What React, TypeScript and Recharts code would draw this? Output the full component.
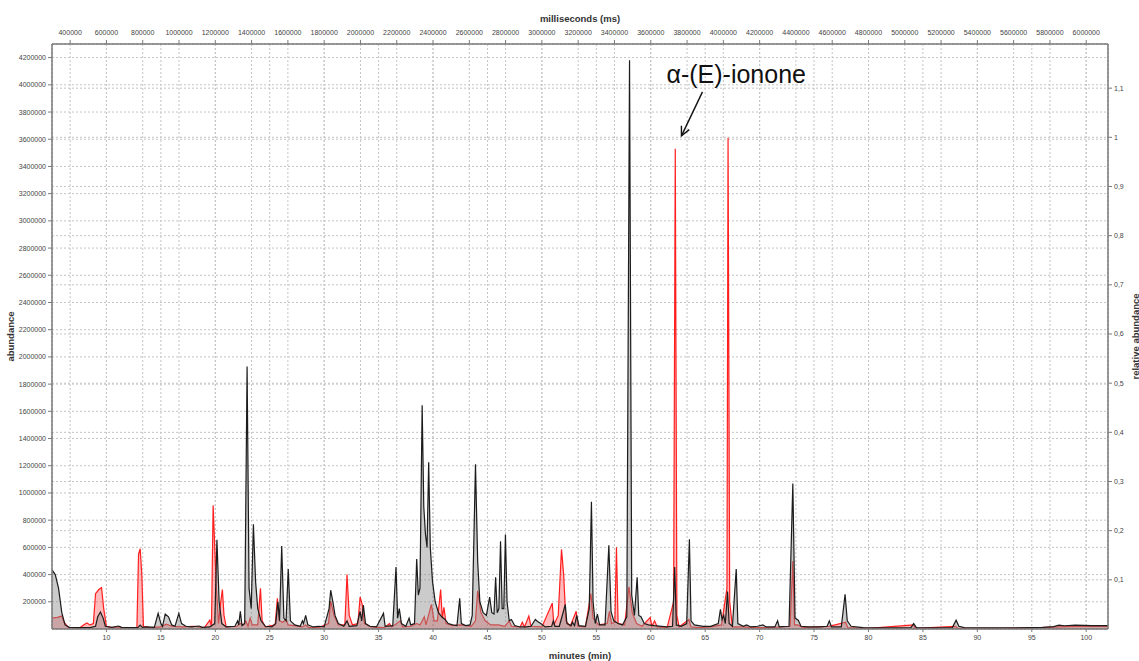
import {
  Area,
  CartesianGrid,
  ComposedChart,
  Label,
  ReferenceLine,
  XAxis,
  YAxis,
} from "recharts";

// black trace: [minutes, abundance]
const BLACK_TRACE: [number, number][] = [
  [5.0, 435000], [5.3, 400000], [5.6, 300000], [5.9, 120000], [6.2, 30000], [6.6, 12000],
  [7.5, 10000], [8.5, 10000], [9.0, 20000], [9.2, 90000], [9.45, 125000], [9.7, 80000],
  [9.9, 20000], [10.5, 12000], [11.1, 22000], [11.4, 12000], [12.5, 10000], [12.9, 12000],
  [13.1, 28000], [13.3, 12000], [13.7, 15000], [14.4, 12000], [14.75, 115000], [15.0, 40000],
  [15.15, 20000], [15.4, 110000], [15.7, 90000], [16.0, 30000], [16.3, 20000], [16.65, 115000],
  [16.9, 40000], [17.3, 20000], [17.8, 15000], [18.5, 22000], [18.8, 12000], [19.5, 15000],
  [19.95, 40000], [20.15, 655000], [20.35, 200000], [20.6, 40000], [21.0, 15000], [21.8, 20000],
  [22.05, 60000], [22.15, 30000], [22.3, 130000], [22.45, 25000], [22.7, 40000], [22.92, 1930000],
  [23.1, 300000], [23.3, 150000], [23.5, 770000], [23.7, 350000], [23.9, 150000], [24.2, 60000],
  [24.6, 20000], [25.2, 15000], [25.55, 40000], [25.75, 200000], [25.9, 60000], [26.1, 610000],
  [26.3, 80000], [26.5, 60000], [26.7, 440000], [26.9, 60000], [27.3, 30000], [27.8, 20000],
  [28.0, 60000], [28.1, 40000], [28.3, 100000], [28.5, 30000], [29.0, 15000], [29.5, 20000],
  [30.0, 15000], [30.45, 150000], [30.6, 285000], [30.8, 200000], [31.0, 100000], [31.3, 40000],
  [31.8, 20000], [32.1, 60000], [32.3, 20000], [33.0, 25000], [33.3, 130000], [33.45, 60000],
  [33.6, 175000], [33.8, 40000], [34.2, 20000], [34.8, 15000], [35.45, 115000], [35.6, 20000],
  [36.3, 25000], [36.6, 455000], [36.75, 80000], [36.9, 150000], [37.1, 40000], [37.5, 20000],
  [37.8, 80000], [37.95, 30000], [38.3, 40000], [38.5, 515000], [38.65, 250000], [38.8, 300000],
  [39.0, 1645000], [39.15, 900000], [39.3, 700000], [39.45, 600000], [39.6, 1225000], [39.75, 600000],
  [39.95, 350000], [40.2, 200000], [40.5, 120000], [40.8, 90000], [41.1, 70000], [41.4, 40000],
  [41.8, 30000], [42.2, 25000], [42.45, 225000], [42.6, 40000], [43.0, 25000], [43.4, 30000],
  [43.6, 100000], [43.9, 1210000], [44.1, 500000], [44.3, 200000], [44.6, 120000], [44.9, 100000],
  [45.2, 235000], [45.4, 120000], [45.6, 110000], [45.75, 380000], [45.9, 120000], [46.05, 150000],
  [46.2, 645000], [46.35, 150000], [46.5, 150000], [46.65, 695000], [46.8, 200000], [47.0, 60000],
  [47.2, 70000], [47.5, 25000], [48.0, 15000], [48.6, 15000], [49.0, 20000], [49.4, 70000],
  [49.6, 55000], [49.9, 40000], [50.3, 15000], [50.9, 20000], [51.05, 60000], [51.2, 20000],
  [51.6, 20000], [52.15, 180000], [52.3, 40000], [52.7, 25000], [52.8, 50000], [53.0, 25000],
  [53.2, 100000], [53.4, 25000], [54.0, 20000], [54.35, 150000], [54.55, 935000], [54.7, 200000],
  [54.9, 40000], [55.1, 110000], [55.3, 30000], [55.8, 30000], [56.15, 615000], [56.35, 130000],
  [56.6, 60000], [57.0, 40000], [57.4, 30000], [57.8, 90000], [58.05, 4180000], [58.25, 250000],
  [58.5, 100000], [58.75, 380000], [58.9, 100000], [59.1, 90000], [59.4, 40000], [59.8, 30000],
  [60.3, 25000], [61.0, 20000], [61.5, 15000], [62.0, 20000], [62.2, 455000], [62.35, 30000],
  [62.8, 20000], [63.3, 40000], [63.55, 660000], [63.7, 60000], [64.0, 30000], [64.8, 20000],
  [65.5, 20000], [66.2, 40000], [66.4, 145000], [66.55, 70000], [66.7, 100000], [66.85, 40000],
  [67.05, 275000], [67.2, 40000], [67.5, 20000], [67.85, 440000], [68.0, 40000], [68.5, 20000],
  [68.8, 30000], [69.2, 15000], [69.8, 20000], [70.3, 30000], [70.6, 15000], [71.4, 15000],
  [71.65, 60000], [71.8, 15000], [72.7, 20000], [73.05, 1070000], [73.25, 80000], [73.55, 65000],
  [73.8, 20000], [74.5, 15000], [75.5, 15000], [76.2, 20000], [76.4, 60000], [76.6, 15000],
  [77.5, 15000], [77.85, 255000], [78.05, 60000], [78.4, 20000], [79.5, 10000], [81.0, 8000],
  [82.5, 8000], [83.9, 10000], [84.15, 40000], [84.4, 10000], [86.0, 8000], [87.7, 10000],
  [88.05, 65000], [88.3, 20000], [88.8, 10000], [91.0, 8000], [93.5, 8000], [95.0, 10000],
  [96.0, 12000], [97.0, 18000], [97.5, 28000], [98.0, 24000], [99.0, 28000], [100.5, 25000],
  [102.0, 25000],
];

// red trace: [minutes, abundance]
const RED_TRACE: [number, number][] = [
  [5.0, 80000], [5.5, 85000], [5.9, 95000], [6.1, 50000], [6.5, 12000], [7.5, 5000],
  [7.9, 30000], [8.2, 45000], [8.5, 30000], [8.8, 40000], [9.0, 260000], [9.3, 290000],
  [9.55, 305000], [9.75, 150000], [10.0, 20000], [10.5, 10000], [11.1, 15000], [11.5, 8000],
  [12.8, 10000], [12.95, 550000], [13.1, 590000], [13.25, 400000], [13.4, 20000], [14.0, 10000],
  [15.0, 15000], [15.5, 35000], [16.0, 20000], [17.0, 15000], [18.0, 20000], [19.0, 10000],
  [19.5, 65000], [19.65, 20000], [19.8, 910000], [19.95, 600000], [20.1, 300000], [20.3, 40000],
  [20.5, 200000], [20.65, 290000], [20.8, 100000], [21.0, 15000], [22.0, 20000], [22.3, 40000],
  [22.6, 30000], [22.8, 60000], [23.0, 20000], [23.2, 80000], [23.4, 30000], [23.9, 30000],
  [24.15, 300000], [24.3, 60000], [24.6, 15000], [25.5, 30000], [25.7, 225000], [25.9, 60000],
  [26.2, 50000], [26.5, 70000], [26.7, 30000], [27.2, 25000], [28.0, 15000], [28.3, 30000],
  [28.6, 10000], [29.5, 10000], [30.4, 40000], [30.6, 205000], [30.9, 100000], [31.3, 30000],
  [31.9, 30000], [32.1, 400000], [32.3, 100000], [32.6, 30000], [33.1, 40000], [33.3, 235000],
  [33.5, 180000], [33.7, 40000], [34.3, 15000], [35.5, 10000], [36.0, 40000], [36.2, 15000],
  [37.0, 60000], [37.2, 15000], [38.0, 20000], [38.5, 40000], [38.8, 30000], [39.2, 90000],
  [39.35, 30000], [39.85, 180000], [40.1, 60000], [40.4, 60000], [40.7, 290000], [40.85, 80000],
  [41.0, 160000], [41.2, 40000], [41.8, 25000], [42.5, 30000], [43.5, 20000], [43.9, 60000],
  [44.1, 280000], [44.4, 120000], [44.8, 60000], [45.3, 30000], [46.0, 30000], [46.6, 20000],
  [47.0, 60000], [47.2, 20000], [48.0, 15000], [48.2, 50000], [48.4, 15000], [48.8, 95000],
  [49.0, 20000], [50.0, 15000], [50.95, 190000], [51.1, 30000], [51.5, 100000], [51.8, 585000],
  [52.0, 400000], [52.2, 60000], [52.6, 20000], [53.15, 130000], [53.3, 20000], [54.0, 15000],
  [54.5, 260000], [54.7, 80000], [55.2, 30000], [56.0, 40000], [56.2, 130000], [56.4, 40000],
  [56.7, 50000], [56.85, 600000], [57.0, 40000], [57.6, 30000], [58.0, 310000], [58.3, 120000],
  [58.7, 40000], [59.2, 20000], [59.95, 85000], [60.1, 20000], [60.35, 60000], [60.6, 15000],
  [61.5, 10000], [62.1, 200000], [62.25, 3530000], [62.4, 100000], [62.6, 15000], [63.5, 70000],
  [63.7, 15000], [64.5, 10000], [65.5, 15000], [66.5, 30000], [67.0, 300000], [67.1, 3610000],
  [67.25, 200000], [67.5, 15000], [68.5, 15000], [69.5, 10000], [71.0, 10000], [72.8, 20000],
  [73.05, 500000], [73.2, 30000], [73.5, 30000], [74.0, 10000], [76.4, 20000], [77.9, 50000],
  [78.1, 10000], [80.0, 5000], [84.15, 30000], [84.3, 5000], [88.0, 20000], [88.2, 5000],
  [92.0, 5000], [95.0, 8000], [96.5, 12000], [98.0, 18000], [100.0, 20000], [102.0, 20000],
];

const MIN_TICKS = [10, 15, 20, 25, 30, 35, 40, 45, 50, 55, 60, 65, 70, 75, 80, 85, 90, 95, 100];
const MS_TICKS = [
  400000, 600000, 800000, 1000000, 1200000, 1400000, 1600000, 1800000, 2000000, 2200000,
  2400000, 2600000, 2800000, 3000000, 3200000, 3400000, 3600000, 3800000, 4000000, 4200000,
  4400000, 4600000, 4800000, 5000000, 5200000, 5400000, 5600000, 5800000, 6000000,
];
const ABUND_TICKS = [
  200000, 400000, 600000, 800000, 1000000, 1200000, 1400000, 1600000, 1800000, 2000000,
  2200000, 2400000, 2600000, 2800000, 3000000, 3200000, 3400000, 3600000, 3800000, 4000000,
  4200000,
];
const REL_TICKS = [0.1, 0.2, 0.3, 0.4, 0.5, 0.6, 0.7, 0.8, 0.9, 1, 1.1];

const X_DOMAIN = [5, 102];
const Y_MAX = 4300000;
const REL_REF = 3614000; // abundance that equals relative 1
const MS_PER_MIN = 60000;

const blackData = BLACK_TRACE.map(([t, v]) => ({ t, v }));
const redData = RED_TRACE.map(([t, v]) => ({ t, v }));

// the top axis shares the minutes scale, ticks placed at ms / 60000
const msTicksInMin = MS_TICKS.map((ms) => ms / MS_PER_MIN);

const FONT = "'Liberation Sans', Arial, sans-serif";
const tickStyle = { fontSize: 7, fill: "#444", fontFamily: FONT };
const axisLine = { stroke: "#7a7a7a", strokeWidth: 1.5 };

function formatRel(value: number): string {
  return String(Math.round(value * 10) / 10).replace(".", ",");
}

function formatMs(value: number): string {
  return String(Math.round(value * MS_PER_MIN));
}

function AxisTitle({ viewBox, text, side }: any) {
  const { x, y, width, height } = viewBox;
  const style = { fontSize: 9.5, fontWeight: 700, fill: "#333", fontFamily: FONT };
  if (side === "left" || side === "right") {
    const cx = side === "left" ? x + 10 : x + 27;
    const cy = y + height / 2;
    return (
      <text x={cx} y={cy} transform={`rotate(-90 ${cx} ${cy})`} textAnchor="middle" dominantBaseline="central" style={style}>
        {text}
      </text>
    );
  }
  if (side === "top") {
    return (
      <text x={x + width / 2} y={18} textAnchor="middle" dominantBaseline="central" style={style}>
        {text}
      </text>
    );
  }
  return (
    <text x={x + width / 2} y={y + 26} textAnchor="middle" dominantBaseline="central" style={style}>
      {text}
    </text>
  );
}

function IononeArrow(props: any) {
  const { x1, y1, x2, y2 } = props;
  if ([x1, y1, x2, y2].some((n) => typeof n !== "number")) return null;
  const ang = Math.atan2(y2 - y1, x2 - x1);
  const len = 10;
  const spread = 0.45;
  const ax = x2 - len * Math.cos(ang - spread);
  const ay = y2 - len * Math.sin(ang - spread);
  const bx = x2 - len * Math.cos(ang + spread);
  const by = y2 - len * Math.sin(ang + spread);
  return (
    <g>
      <text x={x1 - 36} y={y1 - 9} style={{ fontSize: 25, fill: "#111", fontFamily: FONT }}>
        α-(E)-ionone
      </text>
      <line x1={x1} y1={y1} x2={x2} y2={y2} stroke="#111" strokeWidth={1.4} />
      <path d={`M${ax},${ay} L${x2},${y2} L${bx},${by}`} fill="none" stroke="#111" strokeWidth={1.4} />
    </g>
  );
}

export default function App() {
  return (
    <div style={{ position: "absolute", left: 0, top: 0, width: 1139, height: 661, background: "#fff" }}>
      <ComposedChart width={1139} height={661} margin={{ top: 0, right: 0, bottom: 0, left: 0 }}>
        <CartesianGrid xAxisId="min" yAxisId="abund" stroke="#c4c4c4" strokeDasharray="2 2" />
        <CartesianGrid xAxisId="ms" yAxisId="rel" stroke="#c4c4c4" strokeDasharray="2 2" />

        <XAxis
          xAxisId="min"
          dataKey="t"
          type="number"
          domain={X_DOMAIN}
          ticks={MIN_TICKS}
          interval={0}
          allowDataOverflow
          height={32}
          tickSize={3}
          tickMargin={3}
          tick={tickStyle}
          axisLine={axisLine}
          tickLine={{ stroke: "#7a7a7a" }}
        >
          <Label content={(p: any) => <AxisTitle {...p} text="minutes (min)" side="bottom" />} />
        </XAxis>
        <XAxis
          xAxisId="ms"
          dataKey="t"
          orientation="top"
          type="number"
          domain={X_DOMAIN}
          ticks={msTicksInMin}
          interval={0}
          allowDataOverflow
          height={44}
          tickSize={4}
          tickMargin={5}
          tick={tickStyle}
          tickFormatter={formatMs}
          axisLine={axisLine}
          tickLine={{ stroke: "#7a7a7a" }}
        >
          <Label content={(p: any) => <AxisTitle {...p} text="milliseconds (ms)" side="top" />} />
        </XAxis>
        <YAxis
          yAxisId="abund"
          type="number"
          domain={[0, Y_MAX]}
          ticks={ABUND_TICKS}
          interval={0}
          allowDataOverflow
          width={52}
          tickSize={4}
          tickMargin={2}
          tick={tickStyle}
          axisLine={axisLine}
          tickLine={{ stroke: "#7a7a7a" }}
        >
          <Label content={(p: any) => <AxisTitle {...p} text="abundance" side="left" />} />
        </YAxis>
        <YAxis
          yAxisId="rel"
          orientation="right"
          type="number"
          domain={[0, Y_MAX / REL_REF]}
          ticks={REL_TICKS}
          interval={0}
          allowDataOverflow
          width={31}
          tickSize={4}
          tickMargin={2}
          tick={tickStyle}
          tickFormatter={formatRel}
          axisLine={axisLine}
          tickLine={{ stroke: "#7a7a7a" }}
        >
          <Label content={(p: any) => <AxisTitle {...p} text="relative abundance" side="right" />} />
        </YAxis>

        <Area
          xAxisId="min"
          yAxisId="abund"
          data={redData}
          dataKey="v"
          type="linear"
          stroke="#ff1f1f"
          strokeWidth={1.2}
          fill="#ff2a2a"
          fillOpacity={0.32}
          dot={false}
          activeDot={false}
          isAnimationActive={false}
        />
        <Area
          xAxisId="min"
          yAxisId="abund"
          data={blackData}
          dataKey="v"
          type="linear"
          stroke="#1c1c1c"
          strokeWidth={1.2}
          fill="#8c8c8c"
          fillOpacity={0.45}
          dot={false}
          activeDot={false}
          isAnimationActive={false}
        />

        <ReferenceLine
          xAxisId="min"
          yAxisId="abund"
          segment={[
            { x: 64.75, y: 3948000 },
            { x: 62.82, y: 3625000 },
          ]}
          shape={IononeArrow}
        />
      </ComposedChart>
    </div>
  );
}
